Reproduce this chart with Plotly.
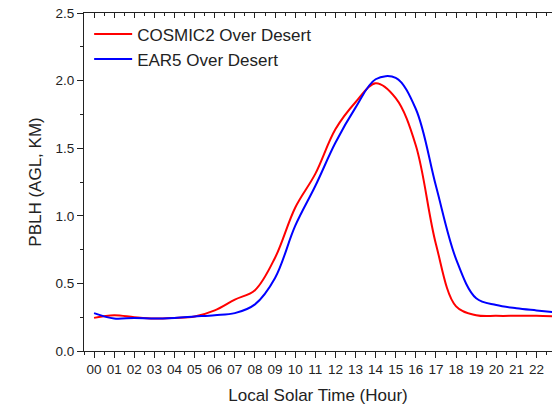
import plotly.graph_objects as go

hours = list(range(0, 24))
hour_labels = ["%02d" % h for h in hours]

cosmic2 = [0.245, 0.265, 0.25, 0.24, 0.245, 0.255, 0.30, 0.38, 0.45, 0.69, 1.06, 1.31,
           1.64, 1.84, 1.98, 1.87, 1.52, 0.79, 0.33, 0.265, 0.26, 0.26, 0.26, 0.255]
era5 = [0.28, 0.24, 0.245, 0.24, 0.245, 0.255, 0.265, 0.28, 0.345, 0.54, 0.925, 1.22,
        1.54, 1.80, 2.01, 2.02, 1.79, 1.22, 0.68, 0.39, 0.34, 0.316, 0.30, 0.285]

font = "Liberation Sans, Arial, sans-serif"
xrange = [-0.5, 22.77]

fig = go.Figure()
fig.add_trace(go.Scatter(x=hours, y=cosmic2, mode="lines", name="COSMIC2 Over Desert",
                         line=dict(color="#ff0000", width=2, shape="spline", smoothing=1)))
# second series sits on the top (mirror) axis so that axis gets drawn; ranges are identical
fig.add_trace(go.Scatter(x=hours, y=era5, mode="lines", name="EAR5 Over Desert", xaxis="x2",
                         line=dict(color="#0000ff", width=2, shape="spline", smoothing=1)))

fig.update_layout(
    width=552, height=405,
    margin=dict(l=84, r=0, t=13, b=54),
    plot_bgcolor="white", paper_bgcolor="white",
    font=dict(family=font, size=13.5, color="#222"),
    showlegend=True,
    legend=dict(x=0.011, y=0.99, xanchor="left", yanchor="top", itemwidth=38,
                bgcolor="rgba(0,0,0,0)", font=dict(size=17), tracegroupgap=0),
    xaxis=dict(range=xrange, tickmode="array", tickvals=hours, ticktext=hour_labels,
               ticks="outside", ticklen=6, tickcolor="#222", showline=True,
               linecolor="#222", linewidth=1, showgrid=False, zeroline=False,
               minor=dict(tickmode="linear", tick0=-0.5, dtick=1, ticks="outside",
                          ticklen=3, tickcolor="#222"),
               title=dict(text="Local Solar Time (Hour)", font=dict(size=17), standoff=12)),
    xaxis2=dict(range=xrange, overlaying="x", side="top", tickmode="linear", tick0=0,
                dtick=1, ticks="inside", ticklen=5, tickcolor="#222", showline=True,
                linecolor="#222", linewidth=1, showgrid=False, zeroline=False,
                showticklabels=False,
                minor=dict(tickmode="linear", tick0=-0.5, dtick=1, ticks="inside",
                           ticklen=3, tickcolor="#222")),
    yaxis=dict(range=[0, 2.5], tickmode="linear", tick0=0, dtick=0.5, tickformat=".1f",
               ticks="outside", ticklen=6, tickcolor="#222", showline=True,
               linecolor="#222", linewidth=1, showgrid=False, zeroline=False,
               minor=dict(tickmode="linear", tick0=0.25, dtick=0.5, ticks="outside",
                          ticklen=3, tickcolor="#222"),
               title=dict(text="PBLH (AGL, KM)", font=dict(size=17), standoff=9)),
)

# drop the page's default 8px body margin so the figure sits at the window corner
fig.write_html("out.html", config={"displayModeBar": False},
               post_script="document.body.style.margin='0';")
